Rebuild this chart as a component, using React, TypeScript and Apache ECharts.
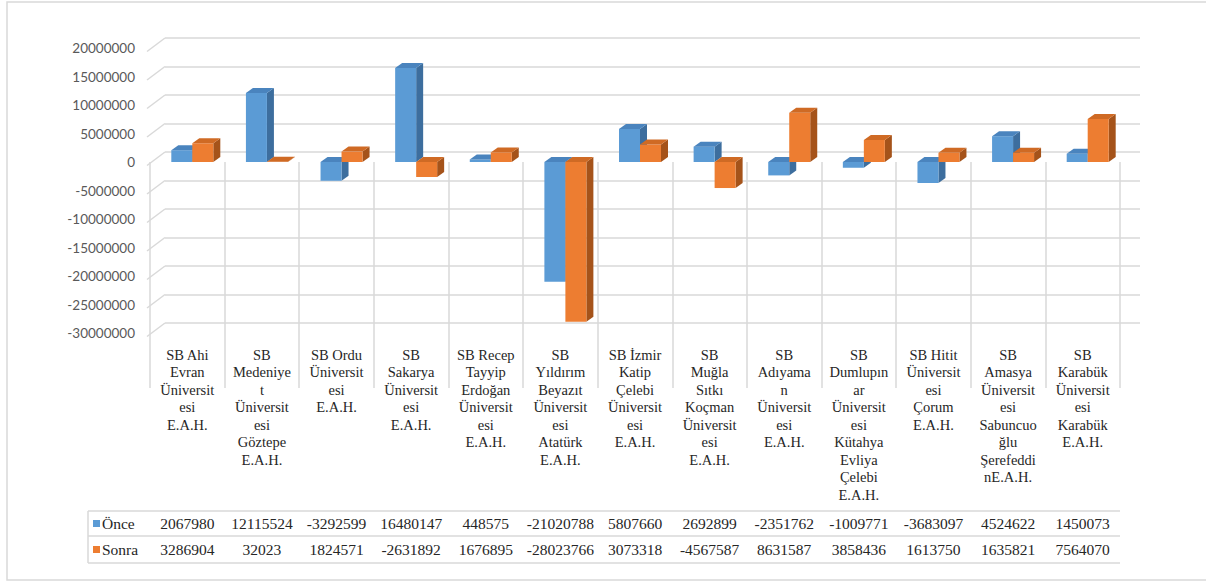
import React, { useEffect, useRef } from "react";
import * as echarts from "echarts";

const categories = [
  "SB Ahi\nEvran\nÜniversit\nesi\nE.A.H.",
  "SB\nMedeniye\nt\nÜniversit\nesi\nGöztepe\nE.A.H.",
  "SB Ordu\nÜniversit\nesi\nE.A.H.",
  "SB\nSakarya\nÜniversit\nesi\nE.A.H.",
  "SB Recep\nTayyip\nErdoğan\nÜniversit\nesi\nE.A.H.",
  "SB\nYıldırım\nBeyazıt\nÜniversit\nesi\nAtatürk\nE.A.H.",
  "SB İzmir\nKatip\nÇelebi\nÜniversit\nesi\nE.A.H.",
  "SB\nMuğla\nSıtkı\nKoçman\nÜniversit\nesi\nE.A.H.",
  "SB\nAdıyama\nn\nÜniversit\nesi\nE.A.H.",
  "SB\nDumlupın\nar\nÜniversit\nesi\nKütahya\nEvliya\nÇelebi\nE.A.H.",
  "SB Hitit\nÜniversit\nesi\nÇorum\nE.A.H.",
  "SB\nAmasya\nÜniversit\nesi\nSabuncuo\nğlu\nŞerefeddi\nnE.A.H.",
  "SB\nKarabük\nÜniversit\nesi\nKarabük\nE.A.H.",
];

const onceValues = [
  2067980, 12115524, -3292599, 16480147, 448575, -21020788, 5807660, 2692899,
  -2351762, -1009771, -3683097, 4524622, 1450073,
];
const sonraValues = [
  3286904, 32023, 1824571, -2631892, 1676895, -28023766, 3073318, -4567587,
  8631587, 3858436, 1613750, 1635821, 7564070,
];

const seriesNames = ["Önce", "Sonra"];
const yTicks = [
  20000000, 15000000, 10000000, 5000000, 0, -5000000, -10000000, -15000000,
  -20000000, -25000000, -30000000,
];

const Y_MIN = -30000000;
const Y_MAX = 20000000;
const Y_STEP = 5000000;

const GRID_COLOR = "#d9d9d9";
const SERIF = "Liberation Serif";
const TEXT_COLOR = "#262626";

const BAR_W = 21;
const DX = 7;
const DY = 5;

function make3DBar(offset: number, front: string, topC: string, side: string) {
  return (params: any, api: any) => {
    const idx = api.value(0);
    const v = api.value(1);
    const c = api.coord([idx, v]);
    const z = api.coord([idx, 0]);
    const x0 = c[0] + offset;
    const x1 = x0 + BAR_W;
    const top = Math.min(c[1], z[1]);
    const bottom = Math.max(c[1], z[1]);
    return {
      type: "group",
      children: [
        {
          type: "polygon",
          shape: {
            points: [
              [x1, top],
              [x1 + DX, top - DY],
              [x1 + DX, bottom - DY],
              [x1, bottom],
            ],
          },
          style: { fill: side },
        },
        {
          type: "rect",
          shape: { x: x0, y: top, width: BAR_W, height: bottom - top },
          style: { fill: front },
        },
        {
          type: "polygon",
          shape: {
            points: [
              [x0, top],
              [x1, top],
              [x1 + DX, top - DY],
              [x0 + DX, top - DY],
            ],
          },
          style: { fill: topC },
        },
      ],
    };
  };
}

export default function App() {
  const ref = useRef<HTMLDivElement>(null);

  useEffect(() => {
    if (!ref.current) return;
    const chart = echarts.init(ref.current, null, { renderer: "svg" });

    const frontGrid = { left: 150, right: 86, top: 48, bottom: 249 };
    const backGrid = { left: 165, right: 66, top: 38, bottom: 259 };

    const numberAxis = (vals: number[], margin: number) => ({
      type: "category",
      gridIndex: 0,
      position: "bottom",
      data: vals.map((v) => String(v)),
      axisLine: { show: false },
      axisTick: { show: false },
      axisLabel: {
        interval: 0,
        margin,
        fontFamily: SERIF,
        fontSize: 15.5,
        lineHeight: 18,
        color: TEXT_COLOR,
        verticalAlign: "top",
      },
    });

    const option: any = {
      animation: false,
      backgroundColor: "#ffffff",
      grid: [
        { ...frontGrid, containLabel: false, outerBoundsMode: "none" },
        { ...backGrid, containLabel: false, outerBoundsMode: "none" },
      ],
      xAxis: [
        {
          type: "category",
          gridIndex: 0,
          position: "bottom",
          data: categories,
          offset: 4,
          axisLine: { show: false },
          axisTick: {
            show: true,
            interval: 0,
            length: 226,
            lineStyle: { color: GRID_COLOR, width: 1.5 },
          },
          axisLabel: {
            interval: 0,
            margin: 9,
            fontFamily: SERIF,
            fontSize: 14.5,
            lineHeight: 17.5,
            color: TEXT_COLOR,
            align: "center",
            verticalAlign: "top",
          },
        },
        numberAxis(onceValues, 181),
        numberAxis(sonraValues, 207),
        {
          type: "value",
          gridIndex: 1,
          min: 0,
          max: 1,
          show: false,
        },
      ],
      yAxis: [
        {
          type: "value",
          gridIndex: 0,
          min: Y_MIN,
          max: Y_MAX,
          interval: Y_STEP,
          axisLine: { show: false },
          axisTick: { show: false },
          splitLine: { show: false },
          axisLabel: {
            margin: 15,
            fontFamily: "Lato",
            fontSize: 13.5,
            color: "#595959",
            padding: [9, 0, 0, 0],
            formatter: (v: number) => String(v),
          },
        },
        {
          type: "value",
          gridIndex: 1,
          min: Y_MIN,
          max: Y_MAX,
          interval: Y_STEP,
          axisLine: { show: false },
          axisTick: { show: false },
          axisLabel: { show: false },
          splitLine: { show: true, lineStyle: { color: GRID_COLOR, width: 1.5 } },
        },
      ],
      series: [
        {
          type: "custom",
          name: "walls",
          xAxisIndex: 3,
          yAxisIndex: 1,
          data: yTicks.map((v) => [0, v]),
          z: 1,
          silent: true,
          renderItem: (params: any, api: any) => {
            const p = api.coord([0, api.value(1)]);
            const x = params.coordSys.x;
            return {
              type: "line",
              shape: { x1: x - 18, y1: p[1] + 13.5, x2: x, y2: p[1] },
              style: { stroke: GRID_COLOR, lineWidth: 1.5 },
            };
          },
        },
        {
          type: "custom",
          name: seriesNames[0],
          xAxisIndex: 0,
          yAxisIndex: 0,
          data: onceValues.map((v, i) => [i, v]),
          z: 3,
          renderItem: make3DBar(-16, "#5B9BD5", "#4A84BE", "#3D6E9E"),
        },
        {
          type: "custom",
          name: seriesNames[1],
          xAxisIndex: 0,
          yAxisIndex: 0,
          data: sonraValues.map((v, i) => [i, v]),
          z: 4,
          renderItem: make3DBar(5, "#ED7D31", "#CF6A24", "#A5531A"),
        },
      ],
      graphic: [
        {
          type: "rect",
          shape: { x: 7, y: 2, width: 1204, height: 578 },
          style: { fill: "none", stroke: GRID_COLOR, lineWidth: 1.5 },
          silent: true,
        },
        ...[511, 536, 563].map((y) => ({
          type: "line",
          shape: { x1: 88, y1: y, x2: 1120, y2: y },
          style: { stroke: GRID_COLOR, lineWidth: 1.5 },
          silent: true,
        })),
        {
          type: "line",
          shape: { x1: 88, y1: 511, x2: 88, y2: 563 },
          style: { stroke: GRID_COLOR, lineWidth: 1.5 },
          silent: true,
        },
        ...seriesNames.flatMap((name, i) => {
          const cy = i === 0 ? 523.5 : 549.5;
          const color = i === 0 ? "#5B9BD5" : "#ED7D31";
          return [
            {
              type: "rect",
              shape: { x: 93, y: cy - 3.5, width: 7, height: 7 },
              style: { fill: color },
              silent: true,
            },
            {
              type: "text",
              x: 102,
              y: cy,
              style: {
                text: name,
                fontFamily: SERIF,
                fontSize: 15.5,
                fill: TEXT_COLOR,
                verticalAlign: "middle",
                align: "left",
              },
              silent: true,
            },
          ];
        }),
      ],
    };

    chart.setOption(option);
    return () => chart.dispose();
  }, []);

  return (
    <div
      ref={ref}
      style={{
        position: "absolute",
        left: 0,
        top: 0,
        width: 1206,
        height: 582,
        background: "#ffffff",
      }}
    />
  );
}
